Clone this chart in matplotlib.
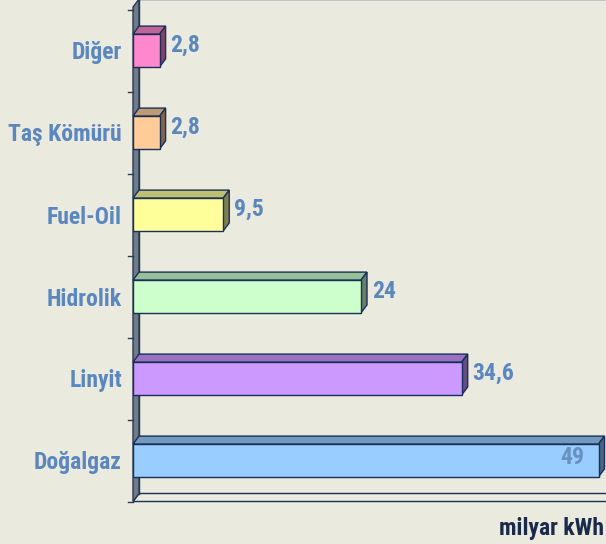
import matplotlib
matplotlib.use("Agg")
import matplotlib.pyplot as plt
from matplotlib.patches import Polygon

# data (bottom to top)
categories = ["Doğalgaz", "Linyit", "Hidrolik", "Fuel-Oil", "Taş Kömürü", "Diğer"]
values = [49, 34.6, 24, 9.5, 2.8, 2.8]
value_labels = ["49", "34,6", "24", "9,5", "2,8", "2,8"]
unit_label = "milyar kWh"

front_cols = ["#99ccff", "#cc99ff", "#ccffcc", "#ffff99", "#ffcc99", "#ff88cc"]
top_cols = ["#7399bf", "#9973bf", "#99bf99", "#bfbf73", "#bf9973", "#bf6699"]
side_cols = ["#4d6680", "#664d80", "#668066", "#80804d", "#80664d", "#804466"]

BG = "#ebeadf"
TXT = "#5b87c0"
EDGE = "#17305a"
FONT = ["Roboto Condensed", "DejaVu Sans"]

W, H = 606, 544
fig = plt.figure(figsize=(W / 100, H / 100), dpi=100, facecolor=BG)

# front plane in pixels: x0=133, 9.5 px per unit, y from 9.5 to 501.5
x0_px, ppu = 133, 9.5
top_px, bot_px = 9.5, 501.5
xmax = 50
ax = fig.add_axes([x0_px / W, (H - bot_px) / H, xmax * ppu / W, (bot_px - top_px) / H])
ax.set_facecolor("none")
ax.set_xlim(0, xmax)
ax.set_ylim(-0.5, 5.5)
for s in ax.spines.values():
    s.set_visible(False)

# depth offsets in data units
dx = 6 / ppu
dy = 8 / ((bot_px - top_px) / 6)
ylo, yhi = -0.5, 5.5

# back wall + floor + left wall
ax.plot([dx, dx, xmax + 5], [ylo + dy, yhi + 1.3 * dy, yhi + 1.3 * dy], color=EDGE, lw=1,
        clip_on=False, zorder=1)
floor = Polygon([(0, ylo), (xmax + 5, ylo), (xmax + 5, ylo + dy), (dx, ylo + dy)],
                closed=True, facecolor="none", edgecolor=EDGE, lw=1, clip_on=False, zorder=1)
ax.add_patch(floor)
wall = Polygon([(0, ylo), (dx, ylo + dy), (dx, yhi + 1.3 * dy), (0, yhi + 0.3 * dy)],
               closed=True, facecolor="#6f7a8a", edgecolor="#2a3850", lw=1, clip_on=False, zorder=2)
ax.add_patch(wall)

# tick marks on the wall
for t in range(7):
    yb = ylo + t
    ax.plot([-0.55, 0], [yb, yb], color="#2a3850", lw=1, clip_on=False, zorder=2)

h = 0.4
bars = ax.barh(range(len(values)), values, height=h, color=front_cols, edgecolor=EDGE,
               linewidth=1, zorder=4)
for i, (v, b) in enumerate(zip(values, bars)):
    yt = i + h / 2
    yb = i - h / 2
    top = Polygon([(0, yt), (dx, yt + dy), (v + dx, yt + dy), (v, yt)], closed=True,
                  facecolor=top_cols[i], edgecolor=EDGE, lw=1, zorder=3, clip_on=False)
    side = Polygon([(v, yb), (v, yt), (v + dx, yt + dy), (v + dx, yb + dy)], closed=True,
                   facecolor=side_cols[i], edgecolor=EDGE, lw=1, zorder=3, clip_on=False)
    ax.add_patch(top)
    ax.add_patch(side)
    if v > 45:
        ax.text(v - 1.5, i + 0.04, value_labels[i], ha="right", va="center", color="#6a90c0",
                fontsize=17, fontweight="bold", family=FONT, zorder=5)
    else:
        ax.text(v + dx + 0.5, i + 0.06, value_labels[i], ha="left", va="center", color=TXT,
                fontsize=17, fontweight="bold", family=FONT, zorder=5)

ax.set_yticks(range(len(categories)))
ax.set_yticklabels(categories, fontsize=17, fontweight="bold", family=FONT, color=TXT)
ax.tick_params(axis="y", length=0, pad=8)
ax.set_xticks([])

fig.text(604 / W, 1 - 529 / H, unit_label, ha="right", va="center", fontsize=17,
         fontweight="bold", family=FONT, color="#1a2a4a")

fig.savefig("out.png", dpi=100, facecolor=BG)
